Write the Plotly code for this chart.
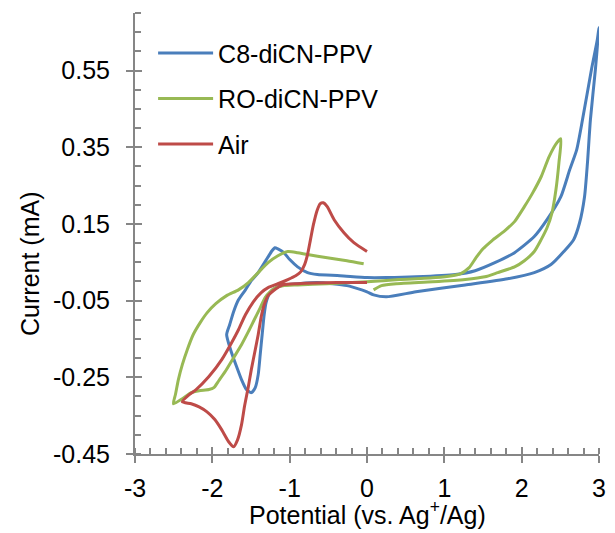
import plotly.graph_objects as go

# Cyclic voltammograms: potential (V vs. Ag+/Ag) and current (mA)
c8_potential = [0.00, 0.085, 0.250, 0.633, 1.270, 1.818, 2.163, 2.379, 2.545, 2.672, 2.749, 2.813, 2.851, 2.889, 2.953, 3.000,
                2.978, 2.902, 2.787, 2.711, 2.621, 2.507, 2.328, 2.163, 1.908, 1.653, 1.398, 1.143, 0.633, 0.250, 0.00,
                -0.349, -0.642, -0.769, -0.897, -0.999, -1.075, -1.152, -1.190, -1.228, -1.279, -1.407, -1.496, -1.572,
                -1.662, -1.725, -1.776, -1.815, -1.764, -1.687, -1.623, -1.560, -1.496, -1.445, -1.407, -1.381, -1.356,
                -1.330, -1.305, -1.254, -1.177, -1.062, -0.642, -0.259, -0.068, 0.00]
c8_current = [-0.027, -0.035, -0.040, -0.027, -0.009, 0.007, 0.023, 0.044, 0.078, 0.109, 0.153, 0.221, 0.310, 0.422, 0.552, 0.662,
              0.630, 0.552, 0.422, 0.343, 0.291, 0.221, 0.161, 0.117, 0.075, 0.049, 0.028, 0.018, 0.012, 0.010, 0.010,
              0.015, 0.018, 0.023, 0.038, 0.057, 0.075, 0.085, 0.088, 0.080, 0.064, 0.023, 0.002, -0.022,
              -0.048, -0.079, -0.113, -0.139, -0.178, -0.222, -0.256, -0.282, -0.290, -0.277, -0.243, -0.191, -0.139,
              -0.087, -0.055, -0.029, -0.016, -0.009, -0.003, -0.011, -0.022, -0.027]

ro_potential = [0.085, 0.187, 0.378, 0.850, 1.270, 1.525, 1.691, 1.908, 2.035, 2.163, 2.252, 2.328, 2.392, 2.443, 2.482, 2.507,
                2.456, 2.354, 2.252, 2.137, 2.035, 1.908, 1.780, 1.614, 1.500, 1.410, 1.321, 1.206, 0.888, 0.416, 0.00,
                -0.514, -0.897, -1.088, -1.177, -1.254, -1.317, -1.381, -1.458, -1.534, -1.623, -1.725, -1.827, -1.917,
                -1.980, -2.044, -2.171, -2.273, -2.388, -2.503,
                -2.477, -2.439, -2.388, -2.324, -2.248, -2.159, -2.069, -1.955, -1.815, -1.662, -1.534, -1.407, -1.279,
                -1.152, -1.024, -0.897, -0.769, -0.514, -0.259, -0.043]
ro_current = [-0.022, -0.011, -0.006, -0.001, 0.005, 0.012, 0.023, 0.038, 0.054, 0.078, 0.109, 0.140, 0.179, 0.239, 0.310, 0.372,
              0.362, 0.325, 0.273, 0.229, 0.195, 0.156, 0.132, 0.106, 0.085, 0.062, 0.036, 0.020, 0.010, 0.005, -0.001,
              -0.006, -0.009, -0.011, -0.016, -0.027, -0.042, -0.069, -0.100, -0.131, -0.165, -0.199, -0.233, -0.259,
              -0.277, -0.282, -0.285, -0.290, -0.306, -0.319,
              -0.295, -0.256, -0.217, -0.178, -0.139, -0.108, -0.082, -0.058, -0.037, -0.022, -0.003, 0.023, 0.049,
              0.067, 0.078, 0.075, 0.070, 0.062, 0.054, 0.046]

air_potential = [0.00, -0.387, -0.897, -1.088, -1.177, -1.279, -1.330, -1.368, -1.407, -1.445, -1.496, -1.534, -1.585, -1.623,
                 -1.674, -1.725, -1.789, -1.878, -1.968, -2.069, -2.171, -2.273, -2.388,
                 -2.299, -2.210, -2.044, -1.878, -1.751, -1.662, -1.572, -1.470, -1.368, -1.279, -1.152, -1.024, -0.922,
                 -0.858, -0.807, -0.769, -0.731, -0.693, -0.642, -0.604, -0.565, -0.514, -0.425, -0.298, -0.170, 0.00]
air_current = [-0.003, -0.003, -0.006, -0.009, -0.019, -0.037, -0.061, -0.092, -0.139, -0.178, -0.230, -0.274, -0.327, -0.374,
               -0.413, -0.431, -0.418, -0.387, -0.360, -0.340, -0.327, -0.319, -0.314,
               -0.295, -0.282, -0.248, -0.204, -0.160, -0.126, -0.087, -0.053, -0.029, -0.016, -0.006, 0.005, 0.015,
               0.025, 0.044, 0.070, 0.109, 0.148, 0.187, 0.203, 0.205, 0.195, 0.161, 0.127, 0.101, 0.078]

series_names = ["C8-diCN-PPV", "RO-diCN-PPV", "Air"]
series_colors = ["#4A7EBB", "#98B954", "#BE4B48"]

x_ticks = [-3, -2, -1, 0, 1, 2, 3]
y_ticks = [-0.45, -0.25, -0.05, 0.15, 0.35, 0.55]

AXIS_GRAY = "#868686"
FONT = "Liberation Sans, Arial, sans-serif"
FONT_SIZE = 25

fig = go.Figure()
for name, color, xs, ys in zip(series_names, series_colors,
                               [c8_potential, ro_potential, air_potential],
                               [c8_current, ro_current, air_current]):
    fig.add_trace(go.Scatter(
        x=xs, y=ys, mode="lines", name=name, legendgroup=name,
        line=dict(color=color, width=3, shape="spline", smoothing=0.6),
    ))

# empty trace so the overlay axes (inner half of the crossing major ticks) are drawn
fig.add_trace(go.Scatter(x=[], y=[], xaxis="x2", yaxis="y2", showlegend=False, hoverinfo="skip"))

axis_common = dict(
    showline=True, linecolor=AXIS_GRAY, linewidth=2,
    showgrid=False, zeroline=False,
    ticks="outside", ticklen=7, tickwidth=2, tickcolor=AXIS_GRAY,
    tickfont=dict(family=FONT, size=FONT_SIZE, color="#000000"),
)

fig.update_layout(
    width=615, height=533,
    margin=dict(l=135, r=9, t=13, b=79),
    paper_bgcolor="white", plot_bgcolor="white",
    showlegend=True,
    legend=dict(
        x=0.039, y=0.961, xanchor="left", yanchor="top",
        font=dict(family=FONT, size=FONT_SIZE, color="#000000"),
        bgcolor="rgba(0,0,0,0)", tracegroupgap=10, itemwidth=55,
    ),
    xaxis=dict(
        range=[-3, 3], tickvals=x_ticks, ticktext=[str(v) for v in x_ticks],
        minor=dict(dtick=0.2, tick0=-3, ticks="inside", ticklen=6, tickwidth=2, tickcolor=AXIS_GRAY),
        ticklabelstandoff=4,
        **axis_common,
    ),
    yaxis=dict(
        range=[-0.45, 0.70], tickvals=y_ticks, ticktext=[f"{v:.2f}" for v in y_ticks],
        minor=dict(dtick=0.05, tick0=-0.45, ticks="inside", ticklen=6, tickwidth=2, tickcolor=AXIS_GRAY),
        ticklabelstandoff=11,
        **axis_common,
    ),
    xaxis2=dict(
        overlaying="x", anchor="y2", side="bottom", range=[-3, 3], tickvals=x_ticks,
        showticklabels=False, showline=False, showgrid=False, zeroline=False,
        ticks="inside", ticklen=7, tickwidth=2, tickcolor=AXIS_GRAY,
    ),
    yaxis2=dict(
        overlaying="y", anchor="x2", side="left", range=[-0.45, 0.70], tickvals=y_ticks,
        showticklabels=False, showline=False, showgrid=False, zeroline=False,
        ticks="inside", ticklen=7, tickwidth=2, tickcolor=AXIS_GRAY,
    ),
    annotations=[
        dict(text="Potential (vs. Ag<sup>+</sup>/Ag)", xref="paper", yref="paper",
             x=0.5, y=-0.134, xanchor="center", yanchor="middle", showarrow=False,
             font=dict(family=FONT, size=FONT_SIZE, color="#000000")),
        dict(text="Current (mA)", xref="paper", yref="paper", textangle=-90,
             x=-0.225, y=0.43, xanchor="center", yanchor="middle", showarrow=False,
             font=dict(family=FONT, size=FONT_SIZE, color="#000000")),
    ],
)

fig.write_html("out.html")
